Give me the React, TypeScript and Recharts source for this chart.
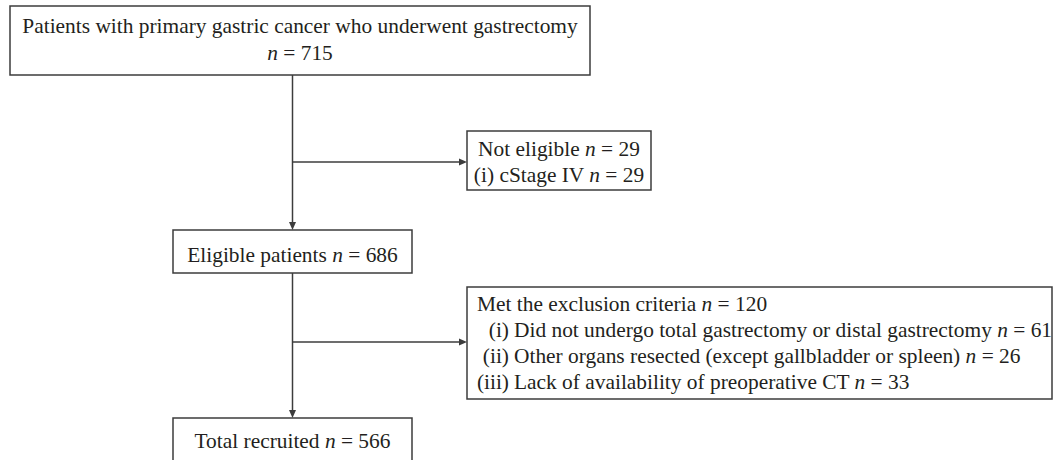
import React from 'react';
import { ComposedChart, XAxis, YAxis, ReferenceArea, ReferenceLine } from 'recharts';

// flow stages (main column)
const stageLabels = ['Patients with primary gastric cancer who underwent gastrectomy', 'Eligible patients', 'Total recruited'];
const stageCounts = [715, 686, 566];

// exclusion boxes
const excludedHeaders = ['Not eligible', 'Met the exclusion criteria'];
const excludedCounts = [29, 120];
const notEligibleNumerals = ['(i)'];
const notEligibleReasons = ['cStage IV'];
const notEligibleCounts = [29];
const exclusionNumerals = ['(i)', '(ii)', '(iii)'];
const exclusionReasons = [
  'Did not undergo total gastrectomy or distal gastrectomy',
  'Other organs resected (except gallbladder or spleen)',
  'Lack of availability of preoperative CT',
];
const exclusionCounts = [61, 26, 33];

const W = 1054;
const H = 460;
const FONT = '"Liberation Serif", "Times New Roman", serif';
const FS = 21.4;
const LINE = 26;
const INK = '#231f20';
const EDGE = '#3c3c3c';

// box layout in page pixels
const screenedBox = { x1: 10, x2: 590, y1: 6, y2: 75 };
const notEligibleBox = { x1: 467, x2: 651, y1: 131, y2: 190 };
const eligibleBox = { x1: 173, x2: 412, y1: 230, y2: 273 };
const excludedBox = { x1: 467, x2: 1052, y1: 287, y2: 399 };
const recruitedBox = { x1: 173, x2: 412, y1: 418, y2: 470 };
const spineX = 292.5;

const CountLine = ({ x, y, anchor, label, count }: any) => (
  <text x={x} y={y} textAnchor={anchor} fontFamily={FONT} fontSize={FS} fill={INK}>
    {label ? <tspan>{label + ' '}</tspan> : null}
    <tspan fontStyle="italic">n</tspan>
    <tspan>{' = ' + count}</tspan>
  </text>
);

const Arrow = (props: any) => {
  const { x1, y1, x2, y2 } = props;
  const dx = x2 - x1;
  const dy = y2 - y1;
  const len = Math.sqrt(dx * dx + dy * dy) || 1;
  const ux = dx / len;
  const uy = dy / len;
  const hl = 8;
  const hw = 3.5;
  const bx = x2 - ux * hl;
  const by = y2 - uy * hl;
  const pts = `${x2},${y2} ${bx - uy * hw},${by + ux * hw} ${bx + uy * hw},${by - ux * hw}`;
  return (
    <g>
      <line x1={x1} y1={y1} x2={bx} y2={by} stroke={EDGE} strokeWidth={1.5} />
      <polygon points={pts} fill={EDGE} />
    </g>
  );
};

const box = (b: any, key: string, label: any) => (
  <ReferenceArea
    key={key}
    x1={b.x1}
    x2={b.x2}
    y1={b.y1}
    y2={b.y2}
    ifOverflow="visible"
    fill="#ffffff"
    fillOpacity={1}
    stroke={EDGE}
    strokeWidth={1.5}
    label={label}
  />
);

const App = () => {
  return (
    <div style={{ position: 'absolute', left: 0, top: 0, width: W, height: H, background: '#fff' }}>
      <ComposedChart width={W} height={H} data={[]} margin={{ top: 0, right: 0, bottom: 0, left: 0 }}>
        <XAxis type="number" dataKey="x" domain={[0, W]} hide allowDataOverflow />
        <YAxis type="number" dataKey="y" domain={[0, H]} reversed hide allowDataOverflow />

        {/* connectors */}
        <ReferenceLine segment={[{ x: spineX, y: screenedBox.y2 }, { x: spineX, y: eligibleBox.y1 }]} shape={Arrow} ifOverflow="visible" />
        <ReferenceLine segment={[{ x: spineX, y: 162 }, { x: notEligibleBox.x1, y: 162 }]} shape={Arrow} ifOverflow="visible" />
        <ReferenceLine segment={[{ x: spineX, y: eligibleBox.y2 }, { x: spineX, y: recruitedBox.y1 }]} shape={Arrow} ifOverflow="visible" />
        <ReferenceLine segment={[{ x: spineX, y: 342 }, { x: excludedBox.x1, y: 342 }]} shape={Arrow} ifOverflow="visible" />

        {box(screenedBox, 'screened', (p: any) => {
          const v = p.viewBox;
          const cx = v.x + v.width / 2;
          return (
            <g>
              <text x={cx} y={v.y + 27} textAnchor="middle" fontFamily={FONT} fontSize={FS} fill={INK}>{stageLabels[0]}</text>
              <CountLine x={cx} y={v.y + 28 + LINE} anchor="middle" count={stageCounts[0]} />
            </g>
          );
        })}

        {box(notEligibleBox, 'notEligible', (p: any) => {
          const v = p.viewBox;
          const cx = v.x + v.width / 2;
          return (
            <g>
              <CountLine x={cx} y={v.y + 25} anchor="middle" label={excludedHeaders[0]} count={excludedCounts[0]} />
              {notEligibleReasons.map((r, i) => (
                <CountLine key={i} x={cx} y={v.y + 25 + LINE * (i + 1)} anchor="middle" label={notEligibleNumerals[i] + ' ' + r} count={notEligibleCounts[i]} />
              ))}
            </g>
          );
        })}

        {box(eligibleBox, 'eligible', (p: any) => {
          const v = p.viewBox;
          return <CountLine x={v.x + v.width / 2} y={v.y + 32} anchor="middle" label={stageLabels[1]} count={stageCounts[1]} />;
        })}

        {box(excludedBox, 'excluded', (p: any) => {
          const v = p.viewBox;
          return (
            <g>
              <CountLine x={v.x + 10} y={v.y + 24} anchor="start" label={excludedHeaders[1]} count={excludedCounts[1]} />
              {exclusionReasons.map((r, i) => (
                <g key={i}>
                  <text x={v.x + 42} y={v.y + 24 + LINE * (i + 1)} textAnchor="end" fontFamily={FONT} fontSize={FS} fill={INK}>
                    {exclusionNumerals[i]}
                  </text>
                  <CountLine x={v.x + 47} y={v.y + 24 + LINE * (i + 1)} anchor="start" label={r} count={exclusionCounts[i]} />
                </g>
              ))}
            </g>
          );
        })}

        {box(recruitedBox, 'recruited', (p: any) => {
          const v = p.viewBox;
          return <CountLine x={v.x + v.width / 2} y={v.y + 30} anchor="middle" label={stageLabels[2]} count={stageCounts[2]} />;
        })}
      </ComposedChart>
    </div>
  );
};

export default App;
